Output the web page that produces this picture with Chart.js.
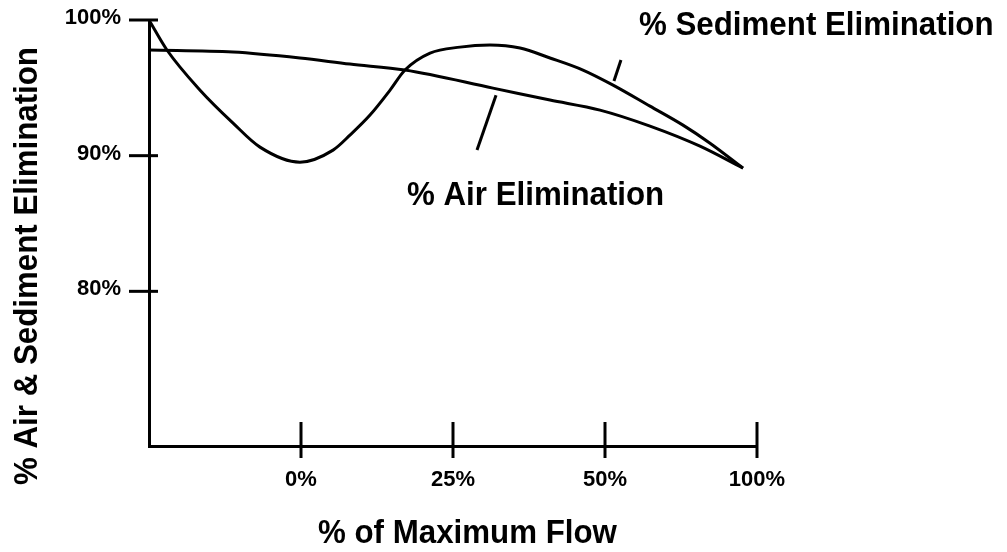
<!DOCTYPE html>
<html>
<head>
<meta charset="utf-8">
<script src="https://cdn.jsdelivr.net/npm/chart.js@4.4.1/dist/chart.umd.min.js"></script>
<style>
  html, body { margin: 0; padding: 0; background: #ffffff; }
  #wrap { width: 1007px; height: 552px; position: relative; }
</style>
</head>
<body>
<div id="wrap"><canvas id="c" width="1007" height="552"></canvas></div>
<script>
// ---- data (x = position along the flow axis, tick slots 1..4) ----
const xTickPositions = [1, 2, 3, 4];
const xTickLabels = ['0%', '25%', '50%', '100%'];
const yTickValues = [80, 90, 100];
const yTickLabels = ['80%', '90%', '100%'];

const sedimentX = [0, 0.118, 0.336, 0.553, 0.730, 0.993, 1.211, 1.322, 1.454, 1.586, 1.684, 1.849, 2.046, 2.243, 2.441, 2.638, 2.855, 3.053, 3.296, 3.513, 3.691, 3.908];
const sedimentY = [100, 97.79, 94.83, 92.40, 90.63, 89.52, 90.41, 91.51, 92.99, 94.83, 96.31, 97.56, 98.00, 98.15, 97.93, 97.20, 96.31, 95.20, 93.65, 92.25, 90.92, 89.08];

const airX = [0, 0.553, 0.993, 1.322, 1.684, 2.263, 2.638, 2.967, 3.296, 3.625, 3.908];
const airY = [97.79, 97.64, 97.20, 96.75, 96.31, 94.98, 94.10, 93.36, 92.18, 90.70, 89.08];

const seriesNames = ['% Sediment Elimination', '% Air Elimination'];
const xTitle = '% of Maximum Flow';
const yTitle = '% Air & Sediment Elimination';

// leader lines (data units): [x1, y1, x2, y2]
const sedimentLeader = [3.105, 97.05, 3.059, 95.50];
const airLeader = [2.283, 94.46, 2.158, 90.41];

const FONT = '"Liberation Sans", Arial, Helvetica, sans-serif';

function toPoints(xs, ys) { return xs.map((x, i) => ({ x: x, y: ys[i] })); }

function squeezedText(ctx, text, x, y, size, rot) {
  ctx.save();
  ctx.translate(x, y);
  if (rot) ctx.rotate(rot);
  ctx.scale(0.92, 1);
  ctx.font = 'bold ' + size + 'px ' + FONT;
  ctx.fillStyle = '#000';
  ctx.textAlign = 'left';
  ctx.textBaseline = 'alphabetic';
  ctx.fillText(text, 0, 0);
  ctx.restore();
}

const decorPlugin = {
  id: 'decor',
  afterDraw(chart) {
    const ctx = chart.ctx;
    const xs = chart.scales.x, ys = chart.scales.y;
    const area = chart.chartArea;
    ctx.save();
    ctx.strokeStyle = '#000';
    ctx.lineWidth = 3;
    ctx.lineCap = 'butt';
    xTickPositions.forEach(v => {
      const px = xs.getPixelForValue(v);
      ctx.beginPath();
      ctx.moveTo(px, area.bottom - 24);
      ctx.lineTo(px, area.bottom + 12);
      ctx.stroke();
    });
    yTickValues.forEach(v => {
      const py = ys.getPixelForValue(v);
      ctx.beginPath();
      ctx.moveTo(area.left - 20, py);
      ctx.lineTo(area.left + 9, py);
      ctx.stroke();
    });
    [sedimentLeader, airLeader].forEach(l => {
      ctx.beginPath();
      ctx.moveTo(xs.getPixelForValue(l[0]), ys.getPixelForValue(l[1]));
      ctx.lineTo(xs.getPixelForValue(l[2]), ys.getPixelForValue(l[3]));
      ctx.stroke();
    });
    ctx.restore();
    squeezedText(ctx, seriesNames[0], 639, 35, 34, 0);
    squeezedText(ctx, seriesNames[1], 407, 205, 34, 0);
    squeezedText(ctx, xTitle, 318, 543, 34, 0);
    squeezedText(ctx, yTitle, 37, 485, 34, -Math.PI / 2);
  }
};

new Chart(document.getElementById('c'), {
  type: 'line',
  data: {
    datasets: [
      {
        label: seriesNames[0],
        data: toPoints(sedimentX, sedimentY),
        borderColor: '#000',
        borderWidth: 3,
        pointRadius: 0,
        cubicInterpolationMode: 'monotone',
        fill: false,
        clip: false
      },
      {
        label: seriesNames[1],
        data: toPoints(airX, airY),
        borderColor: '#000',
        borderWidth: 3,
        pointRadius: 0,
        cubicInterpolationMode: 'monotone',
        fill: false,
        clip: false
      }
    ]
  },
  options: {
    responsive: false,
    animation: false,
    devicePixelRatio: 1,
    layout: { padding: { left: 0, top: 20, right: 250, bottom: 0 } },
    plugins: {
      legend: { display: false },
      tooltip: { enabled: false },
      title: { display: false }
    },
    scales: {
      x: {
        type: 'linear',
        min: 0,
        max: 4,
        grid: { display: false, drawTicks: false },
        border: { display: true, color: '#000', width: 3 },
        afterBuildTicks(scale) { scale.ticks = xTickPositions.map(v => ({ value: v })); },
        afterFit(scale) { scale.height = 106; scale.paddingLeft = 0; scale.paddingRight = 0; },
        ticks: {
          padding: 21,
          color: '#000',
          font: { family: FONT, size: 22, weight: 'bold' },
          maxRotation: 0,
          autoSkip: false,
          callback: (v, i) => xTickLabels[i]
        }
      },
      y: {
        type: 'linear',
        min: 68.6,
        max: 100,
        grid: { display: false, drawTicks: false },
        border: { display: true, color: '#000', width: 3 },
        afterBuildTicks(scale) { scale.ticks = yTickValues.map(v => ({ value: v })); },
        afterFit(scale) { scale.width = 149; scale.paddingTop = 0; scale.paddingBottom = 0; },
        ticks: {
          padding: 28,
          labelOffset: -2,
          color: '#000',
          font: { family: FONT, size: 22, weight: 'bold' },
          autoSkip: false,
          callback: (v, i) => yTickLabels[i]
        }
      }
    }
  },
  plugins: [decorPlugin]
});
</script>
</body>
</html>
